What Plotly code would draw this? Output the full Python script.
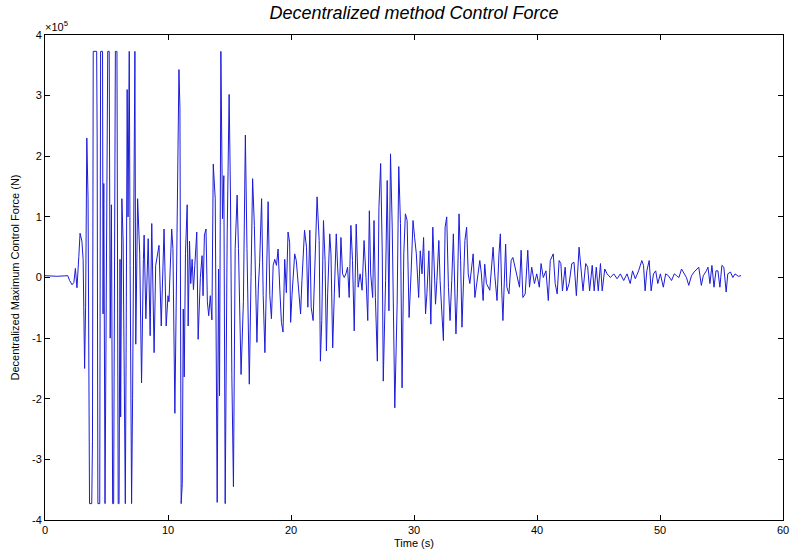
import plotly.graph_objects as go

# Time (s) and control force (in units of 1e5 N)
time_s = [
    0.0, 1.0, 1.85, 2.0, 2.2, 2.35, 2.47, 2.6, 2.75, 2.85, 3.0, 3.1, 3.22, 3.3, 3.4, 3.5,
    3.62, 3.8, 3.86, 3.92, 4.2, 4.24, 4.3, 4.45, 4.52, 4.68, 4.72, 4.78, 4.88, 4.95, 5.02,
    5.1, 5.22, 5.25, 5.3, 5.4, 5.5, 5.58, 5.65, 5.72, 5.85, 5.9, 5.95, 6.02, 6.1, 6.15,
    6.25, 6.35, 6.45, 6.53, 6.6, 6.68, 6.75, 6.85, 6.92, 7.04, 7.12, 7.2, 7.31, 7.38, 7.45,
    7.53, 7.7, 7.85, 8.0, 8.06, 8.2, 8.39, 8.55, 8.68, 8.87, 9.0, 9.27, 9.45, 9.68, 9.85,
    10.0, 10.08,
    10.3, 10.4, 10.56, 10.75, 10.89, 10.97, 11.07, 11.16, 11.24, 11.32, 11.42, 11.56, 11.64,
    11.75, 11.85, 11.96, 12.07, 12.18, 12.34, 12.45, 12.63, 12.77, 12.85, 12.96, 13.09, 13.2,
    13.31, 13.44, 13.57, 13.68, 13.84, 14.0, 14.11, 14.19, 14.3, 14.43, 14.54, 14.65, 14.81,
    14.97, 15.08, 15.19, 15.32, 15.46, 15.62, 15.73, 15.86, 15.94, 16.13, 16.29, 16.42, 16.53,
    16.61, 16.75, 16.88, 17.02, 17.12, 17.23, 17.34, 17.45, 17.61, 17.74, 17.88, 18.01, 18.14,
    18.28, 18.41, 18.55, 18.68, 18.82, 18.95, 19.09, 19.22, 19.35, 19.49, 19.62, 19.76, 19.89,
    19.97, 20.08,
    20.30, 20.43, 20.62, 20.78, 20.89, 21.1, 21.26, 21.37, 21.53, 21.64, 21.8, 21.96, 22.12,
    22.29, 22.39, 22.5, 22.64, 22.77, 22.88, 22.98, 23.15, 23.25, 23.39, 23.52, 23.68, 23.79,
    23.93, 24.06, 24.19, 24.33, 24.46, 24.6, 24.73, 24.87, 25.0, 25.14, 25.3, 25.46, 25.62,
    25.78, 25.94, 26.1, 26.24, 26.37, 26.48, 26.64, 26.75, 26.86, 27.02, 27.15, 27.29, 27.42,
    27.5, 27.69, 27.82, 27.96, 28.09, 28.23, 28.36, 28.44, 28.63, 28.76, 28.9, 29.03, 29.17,
    29.3, 29.44, 29.6, 29.76, 29.92, 30.05, 30.19, 30.38, 30.51, 30.65, 30.78, 30.94, 31.05,
    31.21, 31.37, 31.53, 31.64, 31.75, 31.86, 32.02, 32.12, 32.39, 32.53, 32.66, 32.8, 32.93,
    33.07, 33.2, 33.41, 33.52, 33.66, 33.79, 33.9, 34.01, 34.14, 34.28, 34.41, 34.54, 34.81,
    34.95, 35.08, 35.35, 35.48, 35.62, 35.75, 35.89, 36.16, 36.43, 36.56, 36.75, 36.91, 37.02,
    37.12, 37.23, 37.45, 37.55, 37.72, 37.9, 38.04, 38.31, 38.58,
    38.71, 38.85, 39.04, 39.25, 39.39, 39.57, 39.79, 39.98, 40.19, 40.33, 40.51, 40.73, 40.92,
    41.08, 41.32, 41.48, 41.64, 41.8, 41.94, 42.07, 42.29, 42.42, 42.61, 42.83, 43.01, 43.2,
    43.42, 43.58, 43.74, 43.96, 44.12, 44.28, 44.49, 44.65, 44.82, 44.98, 45.16, 45.3, 45.51,
    45.7, 45.97, 46.24, 46.51, 46.78, 47.05, 47.32, 47.58, 47.77, 47.99, 48.26, 48.52, 48.66,
    48.79, 48.93, 49.12, 49.28, 49.47, 49.65, 49.82, 50.03, 50.27, 50.46, 50.68, 50.94, 51.16,
    51.35, 51.54, 51.75, 51.97, 52.15, 52.34, 52.56, 52.77, 52.96, 53.15, 53.36, 53.52, 53.77,
    53.9, 54.06, 54.22, 54.39, 54.55, 54.71, 54.87, 55.03, 55.19, 55.38, 55.51, 55.73, 55.92,
    56.1, 56.37, 56.59,
]

force_1e5N = [
    0.03, 0.02, 0.03, -0.05, -0.12, -0.08, 0.15, -0.17, 0.35, 0.73, 0.6, 0.3, -1.5, -0.5, 2.3, 1.3,
    -3.73, -3.73, -2.7, 3.73, 3.73, 2.3, -3.73, -3.73, 3.73, 3.73, -0.6, 1.55, -3.73, -1.5, 2.0,
    3.73, 3.73, 2.1, -1.0, 1.2, -3.73, -3.73, 0.5, 3.73, 3.73, 0.8, -3.73, -3.73, 0.3, -2.3,
    1.3, 0.6, -3.0, -3.73, -1.0, 3.1, 1.0, 3.73, 0.2, -3.73, -2.0, 1.5, 3.73, -1.1, 0.7,
    1.3, 0.4, -1.74, 0.3, 0.7, -0.68, 0.64, -0.96, 0.89, -1.24, 0.2, 0.53, -0.8, 0.8, -0.8,
    -0.3, -0.4,
    0.8, 0.48, -2.24, 0.59, 3.43, 2.8, -3.73, -3.4, -0.52, -1.64, 0.4, 1.2, -0.8,
    0.6, -0.1, 0.3, -0.2, 0.2, 0.75, -1.02, 0.0, 0.36, -0.3, 0.7, 0.8, -0.4,
    -0.63, -0.3, -0.7, 1.87, 1.3, -3.71, 0.14, -1.95, 3.73, 0.97, 1.68, -3.73, 0.7,
    3.02, 1.36, -1.6, -3.45, 0.48, 1.36, 0.48, -0.9, -1.6, -0.4, 2.35, 0.48, -0.74,
    -1.76, 0.0, 1.63, 0.86, 0.14, -1.07, -0.19, 0.25, 1.3, -0.3, -1.24, 0.03, 1.25,
    -0.3, -0.68, 0.2, 0.3, 0.2, 0.47, -0.19, -0.74, -0.9, 0.3, -0.25, 0.75, 0.58,
    -0.74, -0.3,
    0.39, 0.28, -0.16, -0.6, -0.05, 0.78, 0.5, -0.49, 0.78, -0.49, -0.71, 0.39, 1.33,
    0.61, -1.38, -0.71, 0.94, 0.28, -1.21, -0.27, 0.72, 0.39, -1.16, -0.27, 0.72, 0.17,
    -0.33, 0.66, 0.06, 0.0, 0.06, 0.17, -0.33, 0.86, 0.28, -0.88, 0.88, -0.16, 0.06,
    -0.21, 0.61, 0.0, -0.71, 1.1, 0.06, -0.33, 0.94, -0.33, -1.38, 1.16, 1.88, 0.39,
    -1.71, -0.05, 1.6, -0.55, 2.04, 0.83, -1.27, -2.15, -0.44, 1.83, 0.89, -1.82, 0.39,
    1.05, 0.94, -0.66, 0.06, 0.94, 0.66, 0.39, -0.33, 0.44, 0.06, 0.66, -0.6, -0.27,
    0.44, -0.77, 0.83, 0.28, -0.44, -0.05, 0.61, -0.05, -1.04, 0.83, 1.0, -0.16, -0.71,
    -0.05, 0.72, -0.93, -0.27, 1.05, 0.28, -0.82, -0.21, 0.61, 0.83, 0.06, -0.1, 0.39,
    -0.33, -0.1, 0.28, 0.06, -0.38, 0.22, -0.1, -0.21, 0.5, 0.06, -0.38, 0.39, 0.72,
    -0.16, -0.71, 0.55, -0.16, -0.27, 0.28, 0.33, 0.11, -0.16,
    0.45, -0.33, -0.27, 0.45, -0.16, 0.17, -0.1, 0.06, -0.16, 0.23, 0.0, 0.11, -0.38,
    0.28, 0.39, -0.1, -0.27, 0.28, 0.23, -0.22, 0.17, -0.22, -0.1, 0.23, 0.25, -0.3,
    0.5, 0.17, -0.22, 0.23, 0.17, -0.22, 0.2, -0.22, 0.17, -0.22, 0.23, -0.22, 0.14,
    0.06, 0.0, 0.06, -0.02, 0.06, -0.05, 0.06, -0.1, 0.11, -0.02, 0.11, 0.28, 0.2,
    -0.22, 0.11, 0.28, -0.22, 0.06, 0.11, -0.1, 0.06, -0.16, 0.06, 0.03, -0.05, 0.06,
    0.03, 0.0, 0.14, 0.06, 0.0, -0.13, 0.03, 0.09, 0.14, 0.17, -0.13, 0.03, 0.11,
    0.17, -0.1, 0.2, -0.16, 0.11, 0.11, -0.16, 0.2, 0.17, -0.24, 0.06, 0.09, 0.0,
    0.06, 0.02, 0.03,
]

x_ticks = [0, 10, 20, 30, 40, 50, 60]
x_tick_labels = ["0", "10", "20", "30", "40", "50", "60"]
y_ticks = [-4, -3, -2, -1, 0, 1, 2, 3, 4]
y_tick_labels = ["-4", "-3", "-2", "-1", "0", "1", "2", "3", "4"]

fig = go.Figure(
    go.Scatter(
        x=time_s,
        y=force_1e5N,
        mode="lines",
        line=dict(color="#1c1cd8", width=1),
        showlegend=False,
    )
)

axis_common = dict(
    ticks="inside",
    ticklen=5,
    tickcolor="black",
    showline=True,
    linecolor="black",
    linewidth=1,
    mirror="ticks",
    showgrid=False,
    zeroline=False,
    tickfont=dict(family="Liberation Sans, Arial, sans-serif", size=11, color="black"),
)

fig.update_layout(
    width=796,
    height=551,
    margin=dict(l=45, r=7, t=35, b=31),
    paper_bgcolor="white",
    plot_bgcolor="white",
    font=dict(family="Liberation Sans, Arial, sans-serif", color="black"),
    title=dict(
        text="<i>Decentralized method Control Force</i>",
        x=0.5,
        xref="paper",
        xanchor="center",
        y=1 - 13 / 551,
        yref="container",
        yanchor="middle",
        font=dict(size=18, color="black"),
    ),
    xaxis=dict(range=[0, 60], tickvals=x_ticks, ticktext=x_tick_labels, **axis_common),
    yaxis=dict(range=[-4, 4], tickvals=y_ticks, ticktext=y_tick_labels, **axis_common),
    annotations=[
        dict(
            text="×10<sup>5</sup>",
            x=0, xref="paper", y=1, yref="paper",
            xanchor="left", yanchor="bottom", showarrow=False,
            xshift=-2, yshift=0,
            font=dict(size=11, color="black"),
        ),
        dict(
            text="Time (s)",
            x=0.5, xref="paper", y=0, yref="paper",
            xanchor="center", yanchor="middle", showarrow=False,
            yshift=-23,
            font=dict(size=11, color="black"),
        ),
        dict(
            text="Decentralized Maximum Control Force (N)",
            x=0, xref="paper", y=0.5, yref="paper",
            xanchor="center", yanchor="middle", showarrow=False,
            xshift=-31, textangle=-90,
            font=dict(size=11, color="black"),
        ),
    ],
)

fig.write_html(
    "out.html",
    config={"displayModeBar": False},
    post_script="document.body.style.margin='0';document.body.style.padding='0';",
)
